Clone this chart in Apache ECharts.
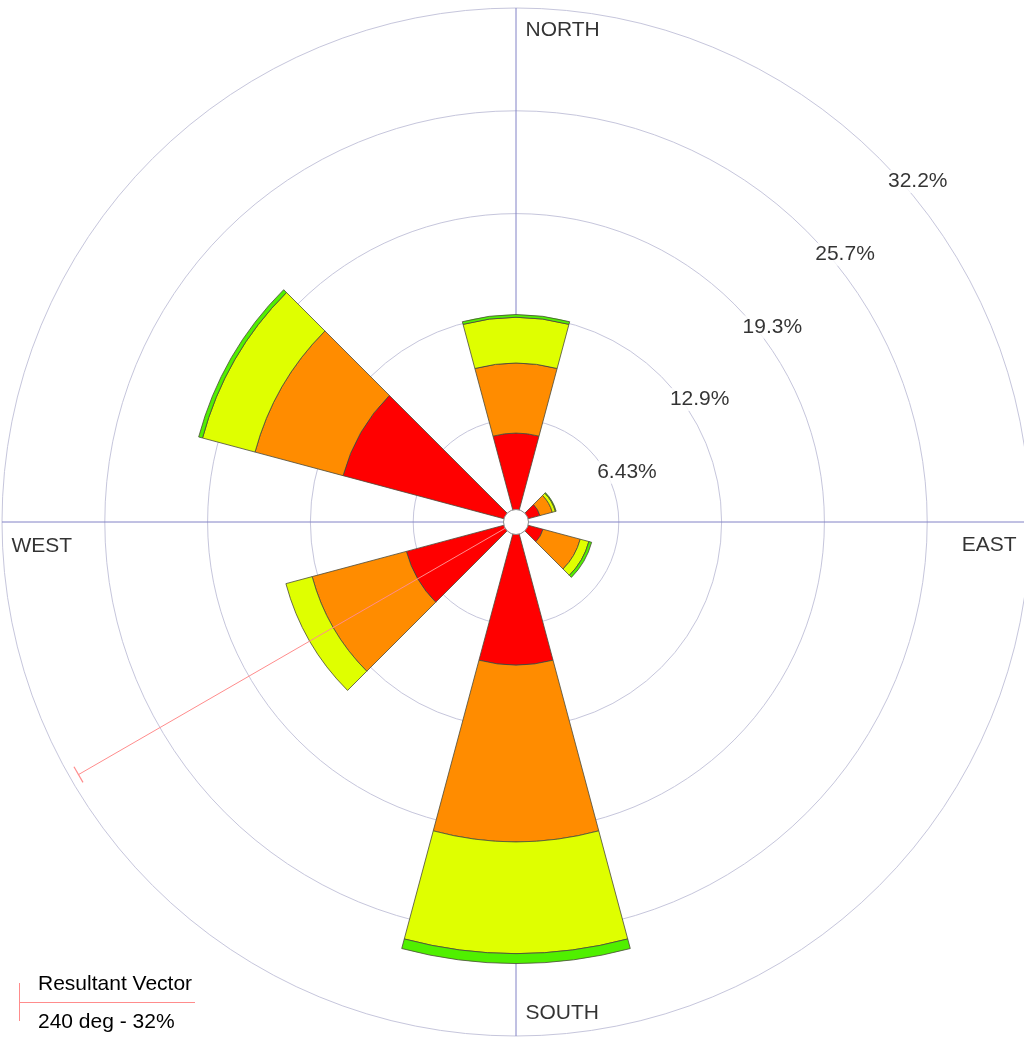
<!DOCTYPE html>
<html><head><meta charset="utf-8">
<script src="https://cdn.jsdelivr.net/npm/echarts@6/dist/echarts.min.js"></script>
<style>html,body{margin:0;padding:0;background:#fff}#c{width:1024px;height:1037px}</style>
</head><body><div id="c"></div>
<script>
// ---- data ----
const sectorAngles = [0, 30, 60, 90, 120, 150, 180, 210, 240, 270, 300, 330];
const red    = [5.56, 0, 1.55, 0, 1.75, 0, 8.95, 0, 7.1, 0, 11.2, 0];
const orange = [4.38, 0, 0.80, 0, 2.41, 0, 11.05, 0, 6.1, 0, 5.7, 0];
const yellow = [2.86, 0, 0.20, 0, 0.56, 0, 7.0, 0, 1.7, 0, 3.4, 0];
const green  = [0.17, 0, 0.05, 0, 0.18, 0, 0.62, 0, 0, 0, 0.25, 0];
const ringStep = 6.43;
const ringLabels = ['6.43%', '12.9%', '19.3%', '25.7%', '32.2%'];
const compassLabels = ['NORTH', 'EAST', 'SOUTH', 'WEST'];
const compassAngles = [0, 90, 180, 270];
const resultantDir = 240;
const resultantPct = 31.6;
const legendTitle = 'Resultant Vector';

// ---- layout / style ----
const C = [516, 522], R = 514;
const FONT = '"Liberation Sans", Arial, sans-serif';
const rMax = +(ringStep * ringLabels.length).toFixed(4);
const colors = ['#ff0000', '#ff8c00', '#dfff00', '#50f000'];
const vecColor = '#ff8c8c';
const compassPlacement = {
  NORTH: { position: [7, 11], align: 'left', verticalAlign: 'top' },
  WEST:  { position: [7, 13], align: 'left', verticalAlign: 'top' },
  EAST:  { position: [-10, 12], align: 'right', verticalAlign: 'top' },
  SOUTH: { position: [7, -11], align: 'left', verticalAlign: 'bottom' }
};

const nz = v => (v > 0 ? v : null);
const barSeries = [red, orange, yellow, green].map((arr, i) => ({
  type: 'bar', coordinateSystem: 'polar', polarIndex: 0, stack: 'wind',
  barCategoryGap: '0%', z: 2, silent: true,
  data: arr.map(nz),
  itemStyle: { color: colors[i], borderColor: '#4a4a3a', borderWidth: 0.8 }
}));

const chart = echarts.init(document.getElementById('c'), null, { renderer: 'canvas' });
chart.setOption({
  animation: false,
  backgroundColor: '#ffffff',
  polar: [{ center: C, radius: R }, { center: C, radius: R }],
  angleAxis: [
    { polarIndex: 0, type: 'category', data: sectorAngles.map(String), startAngle: 90 + 15, clockwise: true,
      axisLine: { show: false }, axisTick: { show: false }, axisLabel: { show: false }, splitLine: { show: false } },
    { polarIndex: 1, type: 'value', min: 0, max: 360, interval: 90, startAngle: 90, clockwise: true,
      axisLine: { show: false }, axisTick: { show: false }, axisLabel: { show: false },
      splitLine: { show: true, lineStyle: { color: '#8282c6', width: 1 } } }
  ],
  radiusAxis: [
    { polarIndex: 0, type: 'value', min: 0, max: rMax,
      axisLine: { show: false }, axisTick: { show: false }, axisLabel: { show: false }, splitLine: { show: false } },
    { polarIndex: 1, type: 'value', min: 0, max: rMax, interval: ringStep,
      axisLine: { show: false }, axisTick: { show: false }, axisLabel: { show: false },
      splitLine: { show: true, lineStyle: { color: '#c6c6dc', width: 1 } } }
  ],
  series: barSeries.concat([
    { type: 'line', coordinateSystem: 'polar', polarIndex: 1, z: 3, silent: true,
      lineStyle: { color: vecColor, width: 1 }, itemStyle: { color: vecColor },
      showSymbol: true,
      data: [
        { value: [0, resultantDir], symbol: 'none' },
        { value: [resultantPct, resultantDir], symbol: 'rect', symbolSize: [1.2, 18], symbolRotate: 270 - resultantDir }
      ] },
    { type: 'scatter', coordinateSystem: 'polar', polarIndex: 1, z: 4, silent: true,
      data: [[0, 0]], symbolSize: 25,
      itemStyle: { color: '#ffffff', borderColor: '#8a8a8a', borderWidth: 1, opacity: 1 } },
    { type: 'scatter', coordinateSystem: 'polar', polarIndex: 1, z: 5, silent: true,
      symbolSize: 1, itemStyle: { color: 'rgba(0,0,0,0)' },
      data: ringLabels.map((t, i) => ({ value: [ringStep * (i + 1), 45], name: t })),
      label: { show: true, formatter: p => p.name, position: [6, 12], align: 'left', verticalAlign: 'top',
        fontFamily: FONT, fontSize: 21, color: '#000', backgroundColor: '#ffffff', padding: [1, 3] } },
    { type: 'scatter', coordinateSystem: 'polar', polarIndex: 1, z: 5, silent: true,
      symbolSize: 1, itemStyle: { color: 'rgba(0,0,0,0)' },
      data: compassLabels.map((t, i) => ({ value: [rMax, compassAngles[i]], name: t,
        label: Object.assign({}, compassPlacement[t]) })),
      label: { show: true, formatter: p => p.name,
        fontFamily: FONT, fontSize: 21, color: '#000', backgroundColor: '#ffffff', padding: [1, 3] } }
  ]),
  graphic: [
    { type: 'line', shape: { x1: 19.5, y1: 983, x2: 19.5, y2: 1021 }, style: { stroke: vecColor, lineWidth: 1 } },
    { type: 'line', shape: { x1: 19, y1: 1002.5, x2: 195, y2: 1002.5 }, style: { stroke: vecColor, lineWidth: 1 } },
    { type: 'text', left: 38, top: 974, style: { text: legendTitle, font: '21px ' + FONT, fill: '#000' } },
    { type: 'text', left: 38, top: 1012,
      style: { text: resultantDir + ' deg - ' + Math.round(resultantPct) + '%', font: '21px ' + FONT, fill: '#000' } }
  ]
});
</script></body></html>
